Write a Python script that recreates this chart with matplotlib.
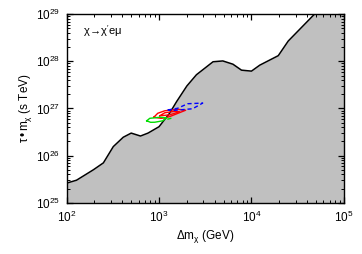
import matplotlib
matplotlib.use("Agg")
import matplotlib.pyplot as plt
from matplotlib.ticker import LogLocator, NullFormatter

plt.rcParams['font.family'] = ['Liberation Sans', 'DejaVu Sans']
plt.rcParams['mathtext.fontset'] = 'custom'
plt.rcParams['mathtext.rm'] = 'Liberation Sans'
plt.rcParams['mathtext.it'] = 'Liberation Sans'
plt.rcParams['mathtext.bf'] = 'Liberation Sans:bold'

# Exclusion boundary
mass = [100, 128, 195, 250, 320, 410, 500, 630, 760, 1000, 1300, 1550, 2000, 2540,
        3840, 4900, 6300, 7800, 10000, 12300, 19500, 25000, 48000, 100000]
tau = [2.6e25, 3.0e25, 5.0e25, 7.0e25, 1.55e26, 2.45e26, 3.0e26, 2.6e26, 3.0e26, 4.1e26,
       7.9e26, 1.4e27, 3.0e27, 5.2e27, 9.8e27, 1.02e28, 8.7e27, 6.5e27, 6.2e27, 8.3e27,
       1.32e28, 2.7e28, 1.0e29, 3.0e29]

# Best-fit contours (closed outlines)
red_outer_m = [877, 1050, 1155, 1330, 1940, 1592, 1153, 968, 877]
red_outer_t = [6.5e26, 6.18e26, 6.3e26, 6.82e26, 9.17e26, 9.6e26, 8.93e26, 7.9e26, 6.5e26]
red_inner_m = [1018, 1200, 1306, 1675, 1479, 1153, 1018]
red_inner_t = [7.0e26, 7.2e26, 7.35e26, 8.5e26, 8.7e26, 8.1e26, 7.0e26]
green_m = [736, 810, 899, 1097, 1210, 1019, 794, 736]
green_t = [5.47e26, 5.08e26, 5.1e26, 5.47e26, 6.34e26, 6.5e26, 6.18e26, 5.47e26]
green_tail_m = [1230, 1400]
green_tail_t = [5.9e26, 6.3e26]
blue_m = [1242, 1590, 2040, 2965, 2310, 1740, 1420, 1242]
blue_t = [9.3e26, 1.01e27, 1.26e27, 1.3e27, 9.86e26, 9.38e26, 9.1e26, 9.3e26]

fig = plt.figure(figsize=(3.62, 2.54), dpi=100)
ax = fig.add_axes([0.184, 0.202, 0.766, 0.742])

ax.fill_between(mass, tau, 1e25, color='#c0c0c0', lw=0)
ax.plot(mass, tau, color='black', lw=1.1)

ax.plot(red_outer_m, red_outer_t, color='red', lw=1.0)
ax.plot(red_inner_m, red_inner_t, color='red', lw=1.0)
ax.plot(green_m, green_t, color='#00dd00', lw=1.0)
ax.plot(green_tail_m, green_tail_t, color='#00dd00', lw=1.0, ls=(0, (3, 2)))
ax.plot(blue_m, blue_t, color='blue', lw=1.0, ls=(0, (3, 2)))

ax.set_xscale('log')
ax.set_yscale('log')
ax.set_xlim(1e2, 1e5)
ax.set_ylim(1e25, 1e29)

ax.xaxis.set_minor_locator(LogLocator(base=10, subs=range(2, 10), numticks=20))
ax.yaxis.set_minor_locator(LogLocator(base=10, subs=range(2, 10), numticks=20))
ax.xaxis.set_minor_formatter(NullFormatter())
ax.yaxis.set_minor_formatter(NullFormatter())
ax.tick_params(which='both', direction='in', top=True, right=True, labelsize=8.5)
ax.tick_params(axis='x', which='major', pad=5)
ax.tick_params(axis='y', which='major', pad=5)
ax.tick_params(which='major', length=4.5, width=0.9)
ax.tick_params(which='minor', length=2.2, width=0.7)
for s in ax.spines.values():
    s.set_linewidth(1.0)

ax.set_xlabel(r'$\Delta$m$_\chi$ (GeV)', fontsize=8.5, labelpad=2)
ax.set_ylabel(r'τ$\,$•$\,$m$_\chi$ (s TeV)', fontsize=8.5)
ax.yaxis.set_label_coords(-0.118, 0.5)
ax.text(0.06, 0.955, r'$\chi\!\rightarrow\!\chi^{\prime}$e$\mu$', transform=ax.transAxes,
        fontsize=8, va='top', ha='left')

fig.savefig('out.png', dpi=100)
